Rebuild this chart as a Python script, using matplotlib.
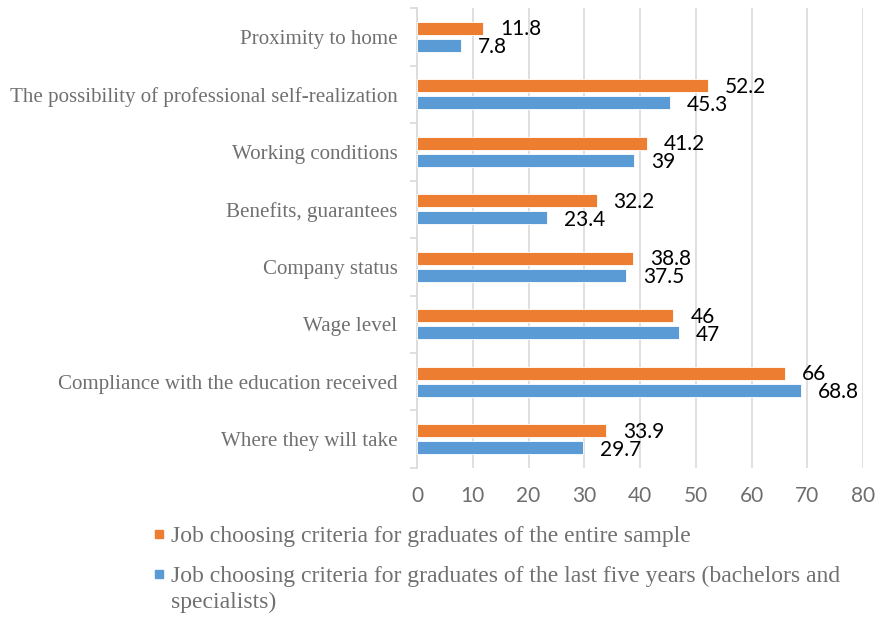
import matplotlib.pyplot as plt
import numpy as np
from matplotlib.patches import Rectangle

categories = [
    "Where they will take",
    "Compliance with the education received",
    "Wage level",
    "Company status",
    "Benefits, guarantees",
    "Working conditions",
    "The possibility of professional self-realization",
    "Proximity to home",
]
entire_sample = [33.9, 66, 46, 38.8, 32.2, 41.2, 52.2, 11.8]
last_five_years = [29.7, 68.8, 47, 37.5, 23.4, 39, 45.3, 7.8]
series_names = [
    "Job choosing criteria for graduates of the entire sample",
    "Job choosing criteria for graduates of the last five years (bachelors and\nspecialists)",
]
x_ticks = [0, 10, 20, 30, 40, 50, 60, 70, 80]

ORANGE = "#ED7D31"
BLUE = "#5B9BD5"
GRID = "#D9D9D9"

fig = plt.figure(figsize=(8.8, 6.17), dpi=100)
ax = fig.add_axes([0.4739, 0.2415, 0.5068, 0.7455])

y = np.arange(len(categories))
h = 0.22
off = 0.147
ax.barh(y + off, entire_sample, height=h, color=ORANGE, edgecolor="white", linewidth=0.6, zorder=3)
ax.barh(y - off, last_five_years, height=h, color=BLUE, edgecolor="white", linewidth=0.6, zorder=3)

for yi, v in zip(y, entire_sample):
    ax.annotate(f"{v:g}", (v, yi + off), xytext=(17, -1), textcoords="offset pixels",
                va="center", ha="left", fontsize=15, family="Lato", color="black")
for yi, v in zip(y, last_five_years):
    ax.annotate(f"{v:g}", (v, yi - off), xytext=(17, -2), textcoords="offset pixels",
                va="center", ha="left", fontsize=15, family="Lato", color="black")

ax.set_xlim(0, 80)
ax.set_ylim(-0.5, len(categories) - 0.5)
ax.set_xticks(x_ticks)
ax.set_xticklabels([str(t) for t in x_ticks], family="Lato", fontsize=15, color="#6E6E6E")
ax.set_yticks(y)
ax.set_yticklabels(categories, family="Liberation Serif", fontsize=15.1, color="#707070")
ax.set_yticks(np.arange(len(categories) + 1) - 0.5, minor=True)
ax.tick_params(axis="y", which="major", length=0, pad=14)
ax.tick_params(axis="y", which="minor", length=5, color=GRID, width=1.2)
ax.tick_params(axis="x", length=0, pad=13)

ax.grid(axis="x", color=GRID, linewidth=1.2, zorder=0)
for s in ["top", "right", "bottom"]:
    ax.spines[s].set_visible(False)
ax.spines["left"].set_color(GRID)
ax.spines["left"].set_linewidth(1.2)
ax.set_axisbelow(True)

# legend drawn below the plot: colour square plus (possibly wrapped) label
legend_items = [(ORANGE, series_names[0], 542), (BLUE, series_names[1], 582)]
for color, label, base_px in legend_items:
    fig.add_artist(Rectangle((155 / 880, 1 - (base_px - 4) / 617), 8 / 880, 8 / 617,
                             transform=fig.transFigure, color=color))
    for k, line in enumerate(label.split("\n")):
        fig.text(171 / 880, 1 - (base_px + 26 * k) / 617, line, family="Liberation Serif",
                 fontsize=17, color="#707070", va="baseline", ha="left")

fig.savefig("out.png", dpi=100)
